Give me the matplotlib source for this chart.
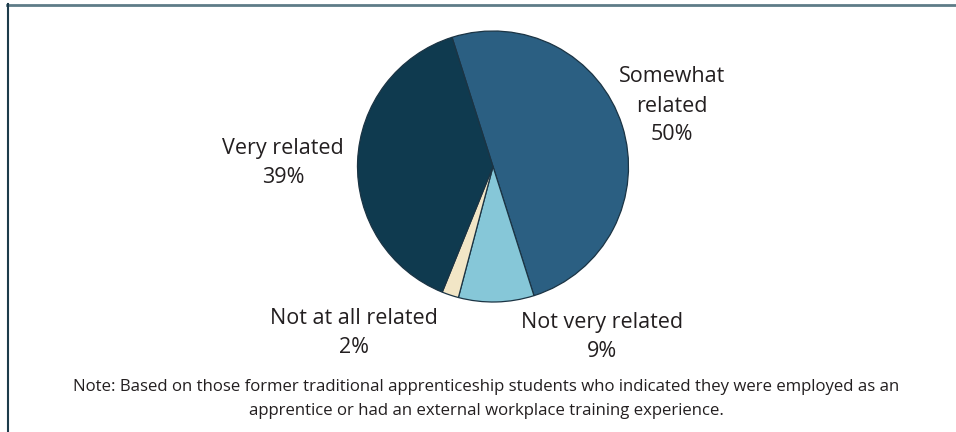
import matplotlib
matplotlib.use("Agg")
import matplotlib.pyplot as plt
from matplotlib.lines import Line2D

# share of respondents by how related the work was
categories = ["Somewhat\nrelated", "Not very related", "Not at all related", "Very related"]
shares = [50, 9, 2, 39]
colors = ["#2b5f82", "#86c7d8", "#f2e6c6", "#0f3a4f"]

plt.rcParams['font.family'] = ['Open Sans', 'DejaVu Sans']
text_col = "#231f20"

W, H = 956, 432
fig = plt.figure(figsize=(W / 100, H / 100), dpi=100)

# pie sits in a square axes, pixel coords from top-left
cx, cy, r = 493, 166.5, 135.5
ax = fig.add_axes([(cx - r) / W, (H - cy - r) / H, 2 * r / W, 2 * r / H])
ax.pie(shares, colors=colors, startangle=107.6, counterclock=False,
       wedgeprops=dict(edgecolor="#1b3444", linewidth=0.9))
ax.set_xlim(-1, 1)
ax.set_ylim(-1, 1)
ax.set_aspect("equal")
ax.axis("off")

# label placement (pixel centres)
label_pos = [(672, 106), (602, 337), (354, 333), (283, 163)]
for name, val, (x, y) in zip(categories, shares, label_pos):
    fig.text(x / W, 1 - y / H, f"{name}\n{val}%", ha="center", va="center",
             fontsize=15.5, color=text_col, linespacing=1.5)

note = ("Note: Based on those former traditional apprenticeship students who indicated they were employed as an\n"
        "apprentice or had an external workplace training experience.")
fig.text(486 / W, 1 - 399 / H, note, ha="center", va="center",
         fontsize=12.1, color=text_col, linespacing=1.6)

# frame: top rule and left rule
fig.add_artist(Line2D([7 / W, 1], [1 - 4.5 / H, 1 - 4.5 / H], color="#5e7c87", lw=2,
                      transform=fig.transFigure))
fig.add_artist(Line2D([7.5 / W, 7.5 / W], [0, 1 - 4 / H], color="#1d3b4b", lw=1.5,
                      transform=fig.transFigure))

fig.savefig("out.png", dpi=100)
